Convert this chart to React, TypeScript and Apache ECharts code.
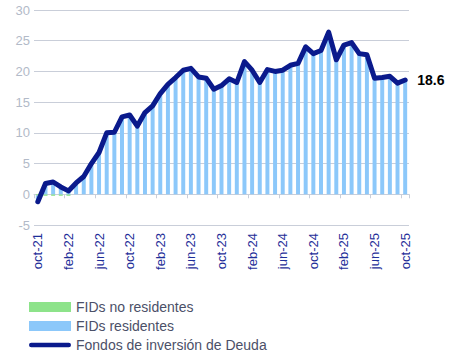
import React, { useEffect, useRef } from "react";
import * as echarts from "echarts";

const categories = [
  "oct-21", "nov-21", "dic-21",
  "ene-22", "feb-22", "mar-22", "abr-22", "may-22", "jun-22", "jul-22", "ago-22", "sep-22", "oct-22", "nov-22", "dic-22",
  "ene-23", "feb-23", "mar-23", "abr-23", "may-23", "jun-23", "jul-23", "ago-23", "sep-23", "oct-23", "nov-23", "dic-23",
  "ene-24", "feb-24", "mar-24", "abr-24", "may-24", "jun-24", "jul-24", "ago-24", "sep-24", "oct-24", "nov-24", "dic-24",
  "ene-25", "feb-25", "mar-25", "abr-25", "may-25", "jun-25", "jul-25", "ago-25", "sep-25", "oct-25",
];

const fondosDeuda = [
  -1.2, 1.75, 2.0, 1.2, 0.55, 1.85, 2.9, 5.0, 6.8, 10.0, 10.1, 12.6, 12.9, 11.1, 13.3, 14.4,
  16.4, 17.9, 19.0, 20.2, 20.5, 19.1, 18.9, 17.1, 17.7, 18.8, 18.2, 21.6, 20.2, 18.2, 20.3, 20.0,
  20.2, 21.0, 21.3, 24.0, 22.9, 23.4, 26.4, 21.9, 24.3, 24.7, 22.9, 22.7, 18.9, 19.0, 19.2, 18.1, 18.6,
];

const fidsNoResidentes = [
  -0.2, -0.25, -0.25, -0.25, -0.25, 0, 0, 0, 0, 0, 0, 0, 0, 0, 0, 0,
  0, 0, 0, 0, 0, 0, 0, 0, 0, 0, 0, 0, 0, 0, 0, 0,
  0, 0, 0, 0, 0, 0, 0, 0, 0, 0, 0, 0, 0, 0, 0, 0, 0,
];

const fidsResidentes = [
  -1.0, 2.0, 2.25, 1.45, 0.8, 1.85, 2.9, 5.0, 6.8, 10.0, 10.1, 12.6, 12.9, 11.1, 13.3, 14.4,
  16.4, 17.9, 19.0, 20.2, 20.5, 19.1, 18.9, 17.1, 17.7, 18.8, 18.2, 21.6, 20.2, 18.2, 20.3, 20.0,
  20.2, 21.0, 21.3, 24.0, 22.9, 23.4, 26.4, 21.9, 24.3, 24.7, 22.9, 22.7, 18.9, 19.0, 19.2, 18.1, 18.6,
];

const FONT = "'Liberation Sans', Arial, sans-serif";
const LINE_ICON =
  "path://M0,0 M46,10 M2.5,2.5 L43.5,2.5 A2.5,2.5 0 0 1 43.5,7.5 L2.5,7.5 A2.5,2.5 0 0 1 2.5,2.5 Z";

export default function App() {
  const ref = useRef<HTMLDivElement>(null);
  useEffect(() => {
    if (!ref.current) return;
    const chart = echarts.init(ref.current, null, { renderer: "svg" });
    chart.setOption({
      animation: false,
      textStyle: { fontFamily: FONT },
      grid: { left: 34, right: 44, top: 10, bottom: 131, containLabel: false },
      legend: {
        orient: "vertical",
        left: 29,
        top: 300,
        height: 70,
        padding: 0,
        itemWidth: 42,
        itemHeight: 10,
        itemGap: 5,
        textStyle: { fontFamily: FONT, fontSize: 14, color: "#4B5068", lineHeight: 14 },
        data: [
          { name: "FIDs no residentes", icon: "rect" },
          { name: "FIDs residentes", icon: "rect" },
          { name: "Fondos de inversión de Deuda", icon: LINE_ICON },
        ],
      },
      xAxis: [
        {
          type: "category",
          data: categories,
          position: "bottom",
          axisLine: { show: false, onZero: false },
          axisTick: { show: false },
          axisLabel: {
            interval: 3,
            rotate: 90,
            margin: 8,
            fontSize: 13,
            fontFamily: FONT,
            color: "#1F2F99",
          },
        },
        {
          type: "category",
          data: categories,
          position: "bottom",
          axisLine: { show: true, onZero: true, lineStyle: { color: "#C9CED9", width: 1 } },
          axisTick: { show: true, interval: 3, length: 4, lineStyle: { color: "#C9CED9" } },
          axisLabel: { show: false },
        },
      ],
      yAxis: {
        type: "value",
        min: -5,
        max: 30,
        interval: 5,
        axisLine: { show: false },
        axisTick: { show: false },
        axisLabel: { fontSize: 13, color: "#B2BAC8", margin: 4, fontFamily: FONT },
        splitLine: { lineStyle: { color: "#C9CED9", width: 1 } },
      },
      series: [
        {
          name: "FIDs no residentes",
          type: "bar",
          stack: "fid",
          data: fidsNoResidentes,
          barCategoryGap: "48%",
          itemStyle: { color: "#8DE38A" },
        },
        {
          name: "FIDs residentes",
          type: "bar",
          stack: "fid",
          data: fidsResidentes,
          barCategoryGap: "48%",
          itemStyle: { color: "#8CC8FA" },
        },
        {
          name: "Fondos de inversión de Deuda",
          type: "line",
          data: fondosDeuda,
          symbol: "none",
          itemStyle: { color: "#0A1A8C" },
          lineStyle: { color: "#0A1A8C", width: 5, cap: "round", join: "round" },
          endLabel: {
            show: true,
            distance: 12,
            formatter: (p: any) => String(p.value),
            fontSize: 14,
            fontWeight: "bold",
            color: "#000000",
            fontFamily: FONT,
          },
        },
      ],
    });
    return () => chart.dispose();
  }, []);
  return <div ref={ref} style={{ width: 453, height: 356, position: "absolute", left: 0, top: 0 }} />;
}
